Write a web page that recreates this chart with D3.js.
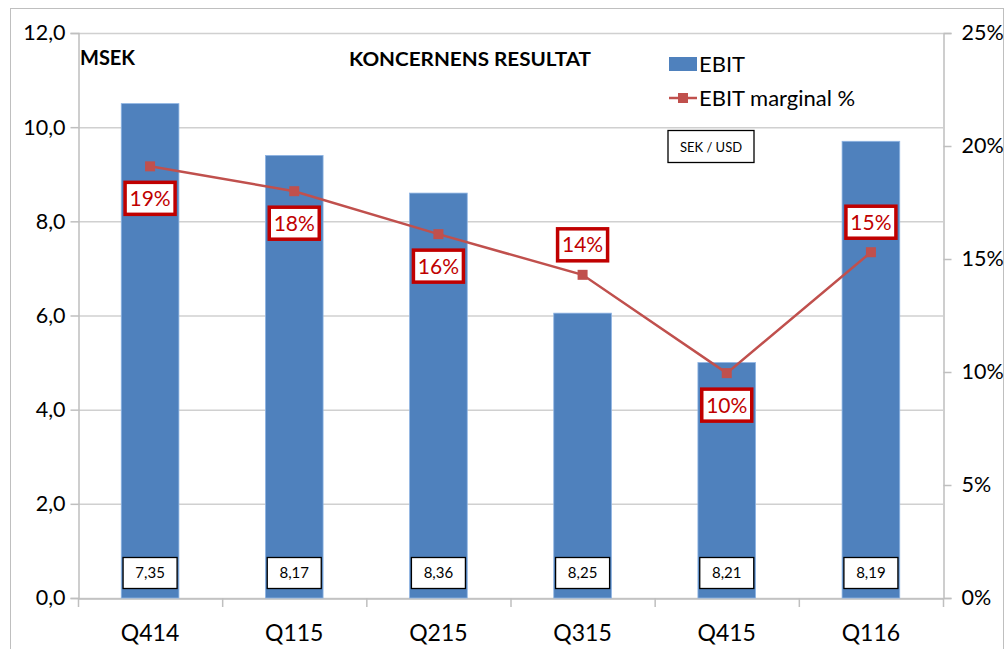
<!DOCTYPE html>
<html><head><meta charset="utf-8">
<script src="https://cdn.jsdelivr.net/npm/d3@7"></script>
<style>
body{margin:0;background:#fff;}
svg{display:block;font-family:Lato,"Open Sans",sans-serif;}
</style></head>
<body><svg id="chart" width="1005" height="649"></svg>
<script>
const categories = ["Q414","Q115","Q215","Q315","Q415","Q116"];
const ebit = [10.5, 9.4, 8.6, 6.05, 5.0, 9.7];
const margin = [19.1, 18.0, 16.1, 14.3, 9.95, 15.3];
const marginLabels = ["19%","18%","16%","14%","10%","15%"];
const labelAbove = [false,false,false,true,false,true];
const sekUsd = ["7,35","8,17","8,36","8,25","8,21","8,19"];
const leftTicks = [0,2,4,6,8,10,12];
const rightTicks = [0,5,10,15,20,25];

const svg = d3.select("#chart");
const L = 78, R = 943, T = 33, B = 598;

// outer border
svg.append("rect").attr("x",10.5).attr("y",8.5).attr("width",993).attr("height",660)
  .attr("fill","none").attr("stroke","#BFBFBF").attr("stroke-width",1);

const x = d3.scaleBand().domain(categories).range([L,R]).paddingInner(0.6).paddingOuter(0.3);
const band = d3.scaleBand().domain(categories).range([L,R]);
const y = d3.scaleLinear().domain([0,12]).range([B,T]);
const y2 = d3.scaleLinear().domain([0,25]).range([B,T]);

// gridlines
svg.append("g").selectAll("line").data(leftTicks).join("line")
  .attr("x1",L).attr("x2",R).attr("y1",d=>y(d)+0.5).attr("y2",d=>y(d)+0.5)
  .attr("stroke","#D0D0D0").attr("stroke-width",1.5);

// left axis
const gl = svg.append("g").attr("transform",`translate(${L+0.5},0)`)
  .call(d3.axisLeft(y).tickValues(leftTicks).tickSize(8).tickPadding(5)
    .tickFormat(d=>d3.format(".1f")(d).replace(".",",")));
gl.select(".domain").attr("stroke","#BFBFBF").attr("stroke-width",1.5);
gl.selectAll(".tick line").attr("stroke","#BFBFBF").attr("stroke-width",1.5);
gl.selectAll(".tick text").attr("font-size",21.5).attr("fill","#000").attr("font-family","Lato,sans-serif");

// right axis
const gr = svg.append("g").attr("transform",`translate(${R+0.5},0)`)
  .call(d3.axisRight(y2).tickValues(rightTicks).tickSize(8).tickPadding(10)
    .tickFormat(d=>d+"%"));
gr.select(".domain").attr("stroke","#BFBFBF").attr("stroke-width",1.5);
gr.selectAll(".tick line").attr("stroke","#BFBFBF").attr("stroke-width",1.5);
gr.selectAll(".tick text").attr("font-size",21.5).attr("fill","#000").attr("font-family","Lato,sans-serif");

// bottom axis
const gb = svg.append("g").attr("transform",`translate(0,${B+0.5})`)
  .call(d3.axisBottom(band).tickSize(0).tickPadding(26));
gb.select(".domain").attr("stroke","#BFBFBF").attr("stroke-width",1.5);
gb.selectAll(".tick text").attr("font-size",23).attr("fill","#000").attr("font-family","Lato,sans-serif");
// category boundary ticks
const bounds = categories.map(c=>band(c)).concat([R]);
svg.append("g").selectAll("line").data(bounds).join("line")
  .attr("x1",d=>d+0.5).attr("x2",d=>d+0.5).attr("y1",B).attr("y2",B+9)
  .attr("stroke","#BFBFBF").attr("stroke-width",1.5);

// bars
svg.append("g").selectAll("rect").data(ebit).join("rect")
  .attr("x",(d,i)=>x(categories[i])).attr("width",x.bandwidth())
  .attr("y",d=>y(d)).attr("height",d=>B-y(d))
  .attr("fill","#4F81BD").attr("stroke","#8EB4E3").attr("stroke-width",0.8);

// line
const cx = i => band(categories[i]) + band.bandwidth()/2;
svg.append("path").datum(margin)
  .attr("d", d3.line().x((d,i)=>cx(i)).y(d=>y2(d)))
  .attr("fill","none").attr("stroke","#C0504D").attr("stroke-width",2.5);
svg.append("g").selectAll("rect").data(margin).join("rect")
  .attr("x",(d,i)=>cx(i)-5).attr("y",d=>y2(d)-5).attr("width",10).attr("height",10)
  .attr("fill","#C0504D");

// margin labels
const ml = svg.append("g").selectAll("g").data(margin).join("g")
  .attr("transform",(d,i)=>`translate(${cx(i)},${y2(d)+(labelAbove[i]?-30:32)})`);
ml.append("rect").attr("x",-25).attr("y",-16).attr("width",50).attr("height",32)
  .attr("fill","#fff").attr("stroke","#C00000").attr("stroke-width",3.5);
ml.append("text").attr("text-anchor","middle").attr("dy","0.36em")
  .attr("font-size",21).attr("fill","#C00000").text((d,i)=>marginLabels[i]);

// SEK/USD boxes
const sb = svg.append("g").selectAll("g").data(sekUsd).join("g")
  .attr("transform",(d,i)=>`translate(${cx(i)},573)`);
sb.append("rect").attr("x",-27).attr("y",-15.5).attr("width",54).attr("height",31)
  .attr("fill","#fff").attr("stroke","#000").attr("stroke-width",1.3);
sb.append("text").attr("text-anchor","middle").attr("dy","0.36em")
  .attr("font-size",15).attr("fill","#000").text(d=>d);

// titles
svg.append("text").attr("x",80).attr("y",65).attr("font-size",20).attr("font-weight","bold")
  .attr("fill","#000").text("MSEK");
svg.append("text").attr("x",349).attr("y",66).attr("font-size",18).attr("font-weight","bold")
  .attr("fill","#000").attr("textLength",242).attr("lengthAdjust","spacingAndGlyphs")
  .text("KONCERNENS RESULTAT");

// legend
svg.append("rect").attr("x",669).attr("y",57).attr("width",28).attr("height",14).attr("fill","#4F81BD");
svg.append("text").attr("x",699).attr("y",72).attr("font-size",22).attr("fill","#000").text("EBIT");
svg.append("line").attr("x1",669).attr("x2",697).attr("y1",98).attr("y2",98)
  .attr("stroke","#C0504D").attr("stroke-width",2.5);
svg.append("rect").attr("x",678).attr("y",93).attr("width",10).attr("height",10).attr("fill","#C0504D");
svg.append("text").attr("x",699).attr("y",106).attr("font-size",22).attr("fill","#000").text("EBIT marginal %");

// SEK / USD box
svg.append("rect").attr("x",668).attr("y",130.5).attr("width",86).attr("height",32)
  .attr("fill","#fff").attr("stroke","#000").attr("stroke-width",1.3);
svg.append("text").attr("x",711).attr("y",147).attr("dy","0.36em").attr("text-anchor","middle")
  .attr("font-size",13).attr("fill","#000").text("SEK / USD");
</script></body></html>
